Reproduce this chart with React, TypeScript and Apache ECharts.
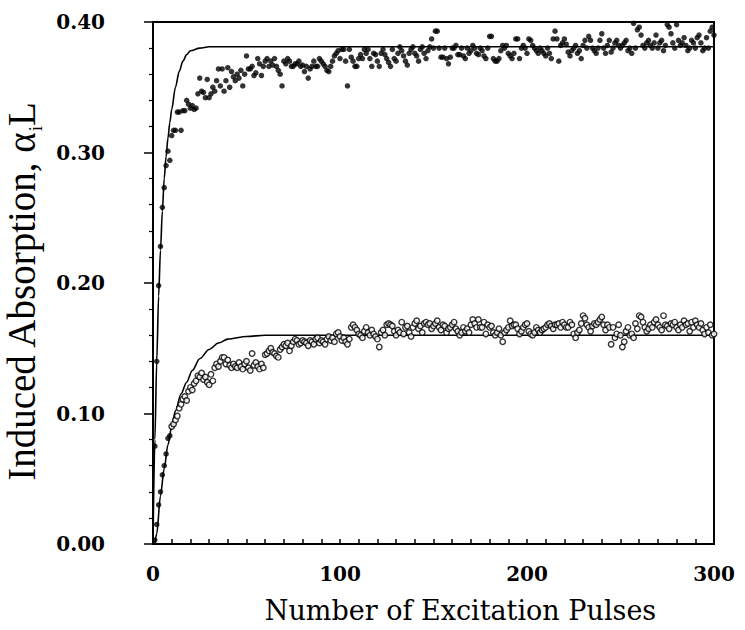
import React, { useEffect, useRef } from "react";
import * as echarts from "echarts";

// Upper data set (filled dots), pulses 1..300
const upperValues: number[] = [
  0.075, 0.140, 0.198, 0.228, 0.258, 0.273, 0.290, 0.301, 0.294, 0.313,
  0.317, 0.317, 0.331, 0.331, 0.317, 0.332, 0.332, 0.340, 0.337, 0.334,
  0.336, 0.333, 0.334, 0.345, 0.357, 0.347, 0.346, 0.342, 0.356, 0.342,
  0.345, 0.350, 0.347, 0.355, 0.364, 0.351, 0.364, 0.347, 0.355, 0.365,
  0.350, 0.362, 0.358, 0.355, 0.360, 0.357, 0.363, 0.351, 0.360, 0.374,
  0.364, 0.364, 0.366, 0.359, 0.361, 0.372, 0.368, 0.359, 0.366, 0.370,
  0.372, 0.366, 0.370, 0.367, 0.372, 0.366, 0.363, 0.360, 0.351, 0.370,
  0.368, 0.372, 0.370, 0.366, 0.366, 0.368, 0.368, 0.370, 0.366, 0.367,
  0.362, 0.366, 0.357, 0.364, 0.366, 0.370, 0.366, 0.366, 0.372, 0.370,
  0.368, 0.366, 0.363, 0.362, 0.366, 0.370, 0.374, 0.376, 0.378, 0.372,
  0.379, 0.379, 0.370, 0.351, 0.379, 0.373, 0.370, 0.366, 0.366, 0.372,
  0.375, 0.372, 0.379, 0.376, 0.379, 0.372, 0.366, 0.376, 0.375, 0.370,
  0.366, 0.376, 0.379, 0.375, 0.372, 0.369, 0.366, 0.379, 0.372, 0.370,
  0.376, 0.381, 0.378, 0.374, 0.370, 0.367, 0.376, 0.379, 0.381, 0.376,
  0.374, 0.370, 0.379, 0.381, 0.376, 0.372, 0.378, 0.381, 0.387, 0.380,
  0.393, 0.393, 0.380, 0.373, 0.373, 0.380, 0.372, 0.368, 0.373, 0.380,
  0.380, 0.382, 0.375, 0.375, 0.380, 0.374, 0.372, 0.380, 0.376, 0.378,
  0.382, 0.380, 0.376, 0.375, 0.380, 0.378, 0.374, 0.372, 0.380, 0.389,
  0.389, 0.372, 0.370, 0.370, 0.372, 0.378, 0.382, 0.380, 0.382, 0.376,
  0.374, 0.372, 0.376, 0.387, 0.387, 0.372, 0.380, 0.382, 0.380, 0.376,
  0.387, 0.386, 0.382, 0.380, 0.378, 0.376, 0.380, 0.378, 0.376, 0.374,
  0.380, 0.376, 0.372, 0.387, 0.393, 0.387, 0.370, 0.382, 0.384, 0.387,
  0.383, 0.377, 0.374, 0.378, 0.380, 0.382, 0.376, 0.378, 0.372, 0.382,
  0.386, 0.380, 0.389, 0.386, 0.380, 0.378, 0.376, 0.380, 0.386, 0.391,
  0.380, 0.376, 0.382, 0.386, 0.377, 0.380, 0.384, 0.386, 0.382, 0.380,
  0.382, 0.384, 0.386, 0.378, 0.380, 0.376, 0.399, 0.380, 0.394, 0.396,
  0.390, 0.382, 0.380, 0.384, 0.386, 0.382, 0.380, 0.384, 0.390, 0.380,
  0.384, 0.386, 0.378, 0.382, 0.398, 0.396, 0.391, 0.384, 0.380, 0.398,
  0.386, 0.382, 0.384, 0.388, 0.382, 0.378, 0.380, 0.386, 0.384, 0.380,
  0.388, 0.390, 0.384, 0.378, 0.380, 0.388, 0.380, 0.393, 0.396, 0.390,
];
const upperStart = 1;

// Lower data set: early pulses drawn filled (pulses 1..9)
const lowerFilledValues: number[] = [
  0.003, 0.015, 0.030, 0.040, 0.053, 0.060, 0.069, 0.081, 0.083,
];
const lowerFilledStart = 1;

// Lower data set: open circles (pulses 10..300)
const lowerOpenValues: number[] = [
  0.090, 0.092, 0.095, 0.098, 0.104, 0.107, 0.111, 0.113, 0.110, 0.117,
  0.120, 0.118, 0.123, 0.125, 0.129, 0.128, 0.131, 0.126, 0.128, 0.124,
  0.122, 0.130, 0.125, 0.135, 0.138, 0.136, 0.140, 0.143, 0.143, 0.138,
  0.141, 0.137, 0.135, 0.138, 0.136, 0.135, 0.139, 0.136, 0.134, 0.138,
  0.140, 0.135, 0.133, 0.146, 0.137, 0.139, 0.136, 0.134, 0.138, 0.135,
  0.145, 0.146, 0.148, 0.150, 0.147, 0.146, 0.144, 0.143, 0.149, 0.151,
  0.153, 0.152, 0.154, 0.148, 0.152, 0.155, 0.157, 0.156, 0.153, 0.154,
  0.156, 0.155, 0.154, 0.152, 0.156, 0.155, 0.153, 0.157, 0.158, 0.154,
  0.156, 0.155, 0.153, 0.157, 0.159, 0.156, 0.158, 0.155, 0.161, 0.162,
  0.159, 0.156, 0.158, 0.155, 0.153, 0.157, 0.166, 0.168, 0.166, 0.164,
  0.161, 0.160, 0.158, 0.163, 0.166, 0.162, 0.160, 0.164, 0.161, 0.159,
  0.157, 0.151, 0.162, 0.164, 0.160, 0.168, 0.169, 0.168, 0.167, 0.163,
  0.160, 0.164, 0.162, 0.170, 0.161, 0.166, 0.167, 0.162, 0.159, 0.166,
  0.169, 0.171, 0.165, 0.167, 0.162, 0.169, 0.170, 0.168, 0.169, 0.165,
  0.167, 0.169, 0.171, 0.166, 0.164, 0.168, 0.167, 0.162, 0.165, 0.166,
  0.168, 0.170, 0.165, 0.163, 0.160, 0.162, 0.166, 0.163, 0.165, 0.162,
  0.168, 0.172, 0.169, 0.166, 0.172, 0.166, 0.166, 0.170, 0.161, 0.168,
  0.166, 0.167, 0.162, 0.160, 0.162, 0.165, 0.160, 0.155, 0.162, 0.164,
  0.166, 0.171, 0.167, 0.168, 0.168, 0.165, 0.161, 0.163, 0.166, 0.168,
  0.169, 0.163, 0.161, 0.160, 0.162, 0.166, 0.164, 0.162, 0.164, 0.165,
  0.166, 0.168, 0.169, 0.167, 0.165, 0.168, 0.168, 0.169, 0.166, 0.170,
  0.168, 0.166, 0.166, 0.170, 0.168, 0.161, 0.158, 0.162, 0.164, 0.169,
  0.175, 0.173, 0.168, 0.166, 0.163, 0.167, 0.169, 0.168, 0.170, 0.172,
  0.174, 0.168, 0.164, 0.168, 0.166, 0.153, 0.166, 0.158, 0.161, 0.168,
  0.160, 0.151, 0.155, 0.163, 0.166, 0.160, 0.161, 0.158, 0.169, 0.165,
  0.175, 0.174, 0.170, 0.166, 0.163, 0.165, 0.168, 0.166, 0.170, 0.172,
  0.168, 0.166, 0.164, 0.175, 0.168, 0.167, 0.165, 0.169, 0.168, 0.170,
  0.166, 0.164, 0.168, 0.166, 0.171, 0.168, 0.169, 0.163, 0.170, 0.166,
  0.171, 0.168, 0.166, 0.169, 0.164, 0.161, 0.166, 0.162, 0.168, 0.160,
  0.161,
];
const lowerOpenStart = 10;

// Fitted curves
const upperFitX: number[] = [0, 1, 2, 3, 4, 5, 6, 7, 8, 9, 10, 12, 14, 16, 18, 20, 25, 30, 40, 300];
const upperFitY: number[] = [0, 0.08, 0.14, 0.19, 0.225, 0.255, 0.28, 0.297, 0.311, 0.323, 0.333, 0.350, 0.362, 0.370, 0.375, 0.378, 0.380, 0.381, 0.381, 0.381];
const lowerFitX: number[] = [1, 2, 4, 6, 8, 10, 12, 15, 18, 21, 25, 30, 35, 40, 50, 60, 80, 300];
const lowerFitY: number[] = [0, 0.008, 0.037, 0.058, 0.076, 0.090, 0.102, 0.115, 0.124, 0.133, 0.142, 0.149, 0.154, 0.157, 0.159, 0.160, 0.160, 0.160];

const xTickLabels: number[] = [0, 100, 200, 300];

const toPoints = (vals: number[], start: number) => vals.map((v, i) => [start + i, v]);
const zip = (xs: number[], ys: number[]) => xs.map((x, i) => [x, ys[i]]);

export default function App() {
  const ref = useRef<HTMLDivElement>(null);
  useEffect(() => {
    if (!ref.current) return;
    const chart = echarts.init(ref.current, null, { renderer: "svg" });
    const tickFont = { fontFamily: "DejaVu Serif", fontSize: 20, fontWeight: "bold" as const, color: "#000" };
    chart.setOption({
      animation: false,
      backgroundColor: "#fff",
      grid: {
        left: 153, top: 22, width: 561, height: 522,
        outerBoundsMode: "none",
        containLabel: false,
        show: true, borderColor: "#000", borderWidth: 2, backgroundColor: "transparent",
      },
      xAxis: {
        type: "value", min: 0, max: 300, interval: 10,
        axisLine: { show: true, lineStyle: { color: "#000", width: 2 } },
        axisTick: { show: true, inside: true, length: 5, lineStyle: { color: "#000", width: 1.5 } },
        axisLabel: {
          ...tickFont, margin: 20,
          formatter: (v: number) => (xTickLabels.includes(v) ? String(v) : ""),
        },
        splitLine: { show: false },
        name: "Number of Excitation Pulses",
        nameLocation: "middle", nameGap: 53,
        nameTextStyle: { fontFamily: "DejaVu Serif", fontSize: 27, color: "#000", padding: [0, 0, 0, 54] },
      },
      yAxis: {
        type: "value", min: 0, max: 0.4, interval: 0.1,
        axisLine: { show: true, lineStyle: { color: "#000", width: 2 } },
        axisTick: { show: true, inside: false, length: 9, lineStyle: { color: "#000", width: 1.5 } },
        minorTick: { show: true, splitNumber: 5, length: 4, lineStyle: { color: "#000", width: 1.2 } },
        axisLabel: { ...tickFont, margin: 48, formatter: (v: number) => v.toFixed(2) },
        splitLine: { show: false },
        name: "{a|Induced Absorption, α}{s|i}{a|L}",
        nameLocation: "middle", nameGap: 102, nameRotate: 90,
        nameTextStyle: {
          color: "#000",
          padding: [0, 18, 0, 0],
          rich: {
            a: { fontFamily: "Liberation Serif", fontSize: 39, lineHeight: 38, verticalAlign: "top", color: "#000" },
            s: { fontFamily: "Liberation Serif", fontSize: 19, lineHeight: 18, padding: [24, 0, 0, 0], verticalAlign: "top", color: "#000" },
          },
        },
      },
      series: [
        {
          type: "line", data: zip(upperFitX, upperFitY), smooth: 0.3, smoothMonotone: "x",
          symbol: "none", lineStyle: { color: "#000", width: 1.6 }, z: 3,
        },
        {
          type: "line", data: zip(lowerFitX, lowerFitY), smooth: 0.3, smoothMonotone: "x",
          symbol: "none", lineStyle: { color: "#000", width: 1.6 }, z: 3,
        },
        {
          type: "scatter", data: toPoints(upperValues, upperStart), symbol: "circle", symbolSize: 5.5,
          itemStyle: { color: "#000" }, z: 4,
        },
        {
          type: "scatter", data: toPoints(lowerFilledValues, lowerFilledStart), symbol: "circle", symbolSize: 5.5,
          itemStyle: { color: "#000" }, z: 4,
        },
        {
          type: "scatter", data: toPoints(lowerOpenValues, lowerOpenStart), symbol: "circle", symbolSize: 5.5,
          itemStyle: { color: "#fff", borderColor: "#000", borderWidth: 1.4 }, z: 4,
        },
      ],
    });
    return () => chart.dispose();
  }, []);
  return (
    <div
      ref={ref}
      style={{ position: "absolute", left: 0, top: 0, width: 745, height: 630, background: "#fff" }}
    />
  );
}
